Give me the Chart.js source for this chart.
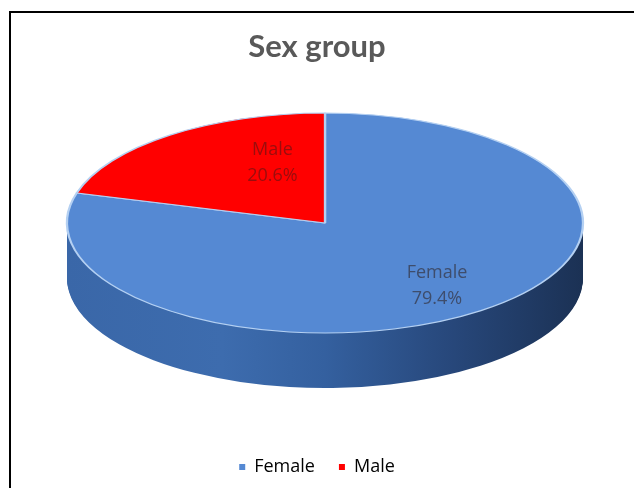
<!DOCTYPE html>
<html>
<head>
<meta charset="utf-8">
<script src="https://cdn.jsdelivr.net/npm/chart.js@4.4.1/dist/chart.umd.min.js"></script>
<style>
  html, body { margin: 0; padding: 0; background: #fff; overflow: hidden; }
  #wrap { position: relative; width: 634px; height: 488px; }
  #frame { position: absolute; left: 9px; top: 11px; width: 700px; height: 600px;
           border-top: 2px solid #000; border-left: 2px solid #000; pointer-events: none; }
</style>
</head>
<body>
<div id="wrap">
  <canvas id="myChart" width="634" height="488"></canvas>
  <div id="frame"></div>
</div>
<script>
// data
const groups = ['Female', 'Male'];
const shares = [79.4, 20.6];
const topColors = ['#5589d3', '#ff0000'];
const labelColors = ['#3e4d6c', '#9a0d0d'];

// where the tilted pie sits on the page
const ELL = { cx: 325, cy: 223, rx: 258, ry: 110, depth: 55 };

/* plugin: squash the pie into an ellipse and add a side wall */
const pie3d = {
  id: 'pie3d',
  beforeDatasetsDraw(chart) {
    const ctx = chart.ctx;
    const arcs = chart.getDatasetMeta(0).data;
    const a0 = arcs[0];
    const R = a0.outerRadius;
    const sx = ELL.rx / R, sy = ELL.ry / R;

    const side = ctx.createLinearGradient(a0.x - R, 0, a0.x + R, 0);
    side.addColorStop(0, '#3a67a8');
    side.addColorStop(0.3, '#3d6cae');
    side.addColorStop(0.5, '#34609f');
    side.addColorStop(0.75, '#27477a');
    side.addColorStop(1, '#1b3154');

    for (let dy = ELL.depth; dy >= 1; dy--) {
      ctx.save();
      ctx.translate(ELL.cx, ELL.cy + dy);
      ctx.scale(sx, sy);
      ctx.translate(-a0.x, -a0.y);
      arcs.forEach(arc => {
        const fake = Object.create(arc);
        fake.options = Object.assign({}, arc.options, { backgroundColor: side, borderWidth: 0 });
        arc.draw.call(fake, ctx);
      });
      ctx.restore();
    }
    ctx.save();
    ctx.translate(ELL.cx, ELL.cy);
    ctx.scale(sx, sy);
    ctx.translate(-a0.x, -a0.y);
  },
  afterDatasetsDraw(chart, args, opts) {
    const ctx = chart.ctx;
    ctx.restore();
    const arcs = chart.getDatasetMeta(0).data;
    ctx.save();
    ctx.font = '18px "Open Sans"';
    ctx.textAlign = 'center';
    ctx.textBaseline = 'middle';
    arcs.forEach((arc, i) => {
      const mid = (arc.startAngle + arc.endAngle) / 2 + opts.nudge[i] * Math.PI / 180;
      const x = ELL.cx + opts.radius[i] * ELL.rx * Math.cos(mid);
      const y = ELL.cy + opts.radius[i] * ELL.ry * Math.sin(mid);
      ctx.fillStyle = labelColors[i];
      ctx.fillText(groups[i], x, y - 13);
      ctx.fillText(shares[i].toFixed(1) + '%', x, y + 13);
    });
    ctx.restore();
  }
};

const ctx = document.getElementById('myChart').getContext('2d');
const myChart = new Chart(ctx, {
  type: 'pie',
  data: {
    labels: groups,
    datasets: [{
      data: shares,
      backgroundColor: topColors,
      borderColor: '#b4d0f2',
      borderWidth: 1.6
    }]
  },
  options: {
    responsive: false,
    animation: false,
    events: [],
    layout: { padding: { bottom: 2 } },
    plugins: {
      title: {
        display: true,
        text: 'Sex group',
        color: '#595959',
        font: { family: 'Lato', size: 31, weight: 'bold' },
        padding: { top: 28, bottom: 10 }
      },
      legend: {
        position: 'bottom',
        labels: {
          color: '#595959',
          font: { family: 'Open Sans', size: 18 },
          usePointStyle: true,
          pointStyle: 'rect',
          boxWidth: 6,
          boxHeight: 6,
          padding: 24,
          generateLabels(chart) {
            return groups.map((g, i) => ({
              text: g,
              fillStyle: topColors[i],
              strokeStyle: topColors[i],
              lineWidth: 0,
              pointStyle: 'rect',
              index: i
            }));
          }
        }
      },
      tooltip: { enabled: false },
      pie3d: { radius: [0.72, 0.58], nudge: [0, 16.5] }
    }
  },
  plugins: [pie3d]
});
</script>
</body>
</html>
